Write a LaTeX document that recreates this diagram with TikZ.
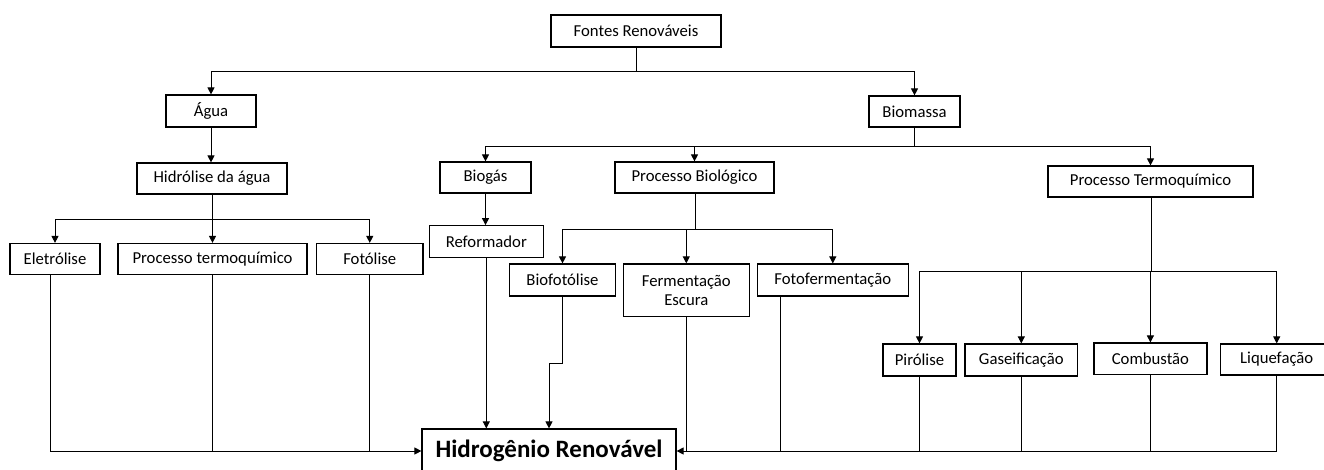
\documentclass[tikz,border=0pt]{standalone}
\usepackage{fontspec}
\setmainfont{Carlito}
\usetikzlibrary{arrows.meta}
\begin{document}
\begin{tikzpicture}[x=1pt,y=-1pt,
  bx/.style={draw=black, line width=1.2pt, inner sep=0pt, align=center, font=\fontsize{16.7}{19}\selectfont},
  ln/.style={draw=black, line width=1pt},
  arr/.style={ln, -{Triangle[length=7pt,width=7pt]}}]
\useasboundingbox (0,0) rectangle (1324,469);
% nodes
\node[bx, minimum width=170pt, minimum height=32pt] (fontes) at (636,31) {Fontes Renováveis};
\node[bx, minimum width=90pt, minimum height=32pt] (agua) at (211,111) {Água};
\node[bx, minimum width=91pt, minimum height=31pt] (biomassa) at (914.5,111.5) {Biomassa};
\node[bx, minimum width=150pt, minimum height=31pt] (hidrolise) at (212,178.5) {Hidrólise da água};
\node[bx, minimum width=91pt, minimum height=31pt] (biogas) at (485.5,177.5) {Biogás};
\node[bx, minimum width=159pt, minimum height=31pt] (procbio) at (694.5,177.5) {Processo Biológico};
\node[bx, minimum width=205pt, minimum height=31pt] (proctermo) at (1150.5,181.5) {Processo Termoquímico};
\node[bx, minimum width=90pt, minimum height=31pt] (eletrolise) at (55,259) {Eletrólise};
\node[bx, minimum width=189pt, minimum height=31pt] (ptq) at (212.5,259) {Processo termoquímico};
\node[bx, minimum width=106.5pt, minimum height=31pt] (fotolise) at (369.75,259) {Fotólise};
\node[bx, minimum width=114pt, minimum height=32pt] (reformador) at (486.3,241.7) {Reformador};
\node[bx, minimum width=106pt, minimum height=32pt] (biofotolise) at (562.5,280) {Biofotólise};
\node[bx, minimum width=126pt, minimum height=52.7pt] (fermentacao) at (686.3,290.3) {Fermentação\\Escura};
\node[bx, minimum width=151pt, minimum height=32pt] (fotoferm) at (832.8,280) {Fotofermentação};
\node[bx, minimum width=73pt, minimum height=32pt] (pirolise) at (919.5,360) {Pirólise};
\node[bx, minimum width=112.6pt, minimum height=32pt] (gaseif) at (1021.3,360) {Gaseificação};
\node[bx, minimum width=113pt, minimum height=31.5pt] (combustao) at (1150.4,358.8) {Combustão};
\node[bx, minimum width=113pt, minimum height=31pt] (liquefacao) at (1276.7,359.5) {Liquefação};
\node[bx, minimum width=254pt, minimum height=44pt, font=\fontsize{25}{27}\selectfont\bfseries] (hidrogenio) at (549,451) {Hidrogênio Renovável};
% junctions
\coordinate (j1) at (636,71);
\coordinate (j2) at (212,219);
\coordinate (j3) at (914.5,146);
\coordinate (j4) at (695.7,229);
\coordinate (j5) at (1151,271);
\coordinate (bk) at (562.5,363.3);
\coordinate (elx) at (50,274.5);
\coordinate (ffx) at (780,296);
% top level
\draw[ln] (fontes.south) -- (j1);
\draw[arr] (j1) -| (agua.north);
\draw[arr] (j1) -| (biomassa.north);
\draw[arr] (agua.south) -- (agua.south |- hidrolise.north);
\draw[ln] (hidrolise.south) -- (j2);
\draw[arr] (j2) -| (eletrolise.north);
\draw[arr] (j2) -| (ptq.north);
\draw[arr] (j2) -| (fotolise.north);
\draw[ln] (biomassa.south) -- (j3);
\draw[arr] (j3) -| (biogas.north);
\draw[arr] (j3) -| (procbio.north);
\draw[arr] (j3) -| (proctermo.north);
\draw[arr] (biogas.south) -- (biogas.south |- reformador.north);
\draw[ln] (procbio.south -| j4) -- (j4);
\draw[arr] (j4) -| (biofotolise.north);
\draw[arr] (j4) -| (fermentacao.north);
\draw[arr] (j4) -| (fotoferm.north);
\draw[ln] (proctermo.south -| j5) -- (j5);
\draw[arr] (j5) -| (pirolise.north);
\draw[arr] (j5) -| (gaseif.north);
\draw[arr] (j5) -| (combustao.north);
\draw[arr] (j5) -| (liquefacao.north);
% to hydrogen
\draw[arr] (elx) |- (hidrogenio.west);
\draw[ln] (ptq.south) -- (ptq.south |- hidrogenio.west);
\draw[ln] (fotolise.south) -- (fotolise.south |- hidrogenio.west);
\draw[arr] (reformador.south) -- (reformador.south |- hidrogenio.north);
\draw[arr] (biofotolise.south) -- (bk) -| (hidrogenio.north);
\draw[arr] (liquefacao.south) |- (hidrogenio.east);
\draw[ln] (combustao.south) -- (combustao.south |- hidrogenio.east);
\draw[ln] (gaseif.south) -- (gaseif.south |- hidrogenio.east);
\draw[ln] (pirolise.south) -- (pirolise.south |- hidrogenio.east);
\draw[ln] (ffx) -- (ffx |- hidrogenio.east);
\draw[ln] (fermentacao.south) -- (fermentacao.south |- hidrogenio.east);
\end{tikzpicture}
\end{document}
